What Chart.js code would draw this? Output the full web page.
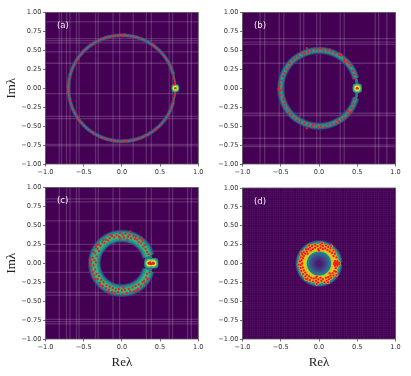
<!DOCTYPE html>
<html><head><meta charset="utf-8">
<style>html,body{margin:0;padding:0;background:#fff}canvas{position:absolute}</style>
<script src="https://cdn.jsdelivr.net/npm/chart.js@4"></script>
</head><body>
<canvas id="a" style="left:0;top:0" width="205" height="176"></canvas>
<canvas id="b" style="left:205px;top:0" width="206" height="176"></canvas>
<canvas id="c" style="left:0;top:176px" width="205" height="200"></canvas>
<canvas id="d" style="left:205px;top:176px" width="206" height="200"></canvas>
<script>
const panelNames=['(a)','(b)','(c)','(d)'];
const xTickLabels=['−1.0','−0.5','0.0','0.5','1.0'];
const yTickLabels=['−1.00','−0.75','−0.50','−0.25','0.00','0.25','0.50','0.75','1.00'];

const stripesAX=[-.82,-.79,-.725,-.68,-.594,-.56,-.345,-.31,-.115,-.03,.148,.32,.385,.62,.664,.86,.91];
const stripesAY=[.875,.656,.63,.60,.48,.33,-.07,-.37,-.40,-.74,-.76];
const stripesBX=[-.77,-.71,-.52,-.46,-.245,-.20,-.03,.015,.277,.33,.735,.78,.887];
const stripesBY=[.656,.61,.58,.33,-.33,-.36,-.66,-.75,-.77];
const stripesCX=[-.82,-.725,-.68,-.594,-.56,-.345,-.31,-.115,-.03,.32,.385,.62,.664,.86,.91];
const stripesCY=[.85,.81,.56,.25,.16,-.12,-.385,-.42,-.74,-.77,-.80];
const stripesDX=[];
const stripesDY=[];

const ringAX=[.676,.606,.495,.35,.181,0,-.181,-.35,-.495,-.606,-.676,-.70,-.676,-.606,-.495,-.35,-.181,0,.181,.35,.495,.606,.676];
const ringAY=[.181,.35,.495,.606,.676,.70,.676,.606,.495,.35,.181,0,-.181,-.35,-.495,-.606,-.676,-.70,-.676,-.606,-.495,-.35,-.181];
const closeAX=[.676,.695,.70,.695,.676];
const closeAY=[.181,.08,0,-.08,-.181];
const ringBX=[.483,.433,.354,.25,.129,0,-.129,-.25,-.354,-.433,-.483,-.50,-.483,-.433,-.354,-.25,-.129,0,.129,.25,.354,.433,.483];
const ringBY=[.129,.25,.354,.433,.483,.50,.483,.433,.354,.25,.129,0,-.129,-.25,-.354,-.433,-.483,-.50,-.483,-.433,-.354,-.25,-.129];
const closeBX=[.483,.497,.50,.497,.483];
const closeBY=[.129,.06,0,-.06,-.129];
const ringCX=[.348,.312,.255,.18,.093,0,-.093,-.18,-.255,-.312,-.348,-.36,-.348,-.312,-.255,-.18,-.093,0,.093,.18,.255,.312,.348];
const ringCY=[.093,.18,.255,.312,.348,.36,.348,.312,.255,.18,.093,0,-.093,-.18,-.255,-.312,-.348,-.36,-.348,-.312,-.255,-.18,-.093];
const closeCX=[.348,.358,.36,.358,.348];
const closeCY=[.093,.04,0,-.04,-.093];
const ringDX=[.205,.198,.178,.145,.103,.053,0,-.053,-.103,-.145,-.178,-.198,-.205,-.198,-.178,-.145,-.103,-.053,0,.053,.103,.145,.178,.198,.205];
const ringDY=[0,.053,.103,.145,.178,.198,.205,.198,.178,.145,.103,.053,0,-.053,-.103,-.145,-.178,-.198,-.205,-.198,-.178,-.145,-.103,-.053,0];
const hazeDX=[0],hazeDY=[0];

const blobAX=[.70],blobAY=[0];
const blobBX=[.50],blobBY=[0];
const blobCX=[.36,.41],blobCY=[0,0];

const dotsA=[[.68,.13],[.67,.17],[.65,.24],[.63,.30],[.60,.35],[.56,.41],[.52,.47],[.47,.52],[.43,.55],[.40,.58],[.31,.62],[.24,.66],[.17,.68],[.10,.69],[.04,.71],[.01,.69],[-.03,.71],[-.07,.69],[-.13,.69],[-.18,.67],[-.22,.67],[-.27,.65],[-.33,.62],[-.38,.59],[-.42,.56],[-.49,.50],[-.53,.45],[-.57,.39],[-.60,.35],[-.63,.29],[-.66,.22],[-.68,.15],[-.69,.09],[-.71,.03],[-.70,-.02],[-.71,-.06],[-.69,-.11],[-.68,-.17],[-.66,-.23],[-.63,-.30],[-.60,-.36],[-.57,-.41],[-.55,-.44],[-.50,-.48],[-.42,-.56],[-.36,-.60],[-.29,-.64],[-.23,-.66],[-.17,-.68],[-.12,-.69],[-.06,-.70],[-.01,-.71],[.03,-.69],[.07,-.70],[.13,-.69],[.18,-.67],[.24,-.66],[.30,-.63],[.35,-.60],[.42,-.56],[.45,-.53],[.51,-.48],[.57,-.42],[.61,-.36],[.64,-.28],[.66,-.23],[.67,-.18],[.68,-.13],[.69,-.09],[.69,.08],[.69,.05]];
const dotsB=[[.47,.13],[.46,.18],[.44,.23],[.41,.30],[.39,.33],[.36,.35],[.33,.39],[.29,.43],[.26,.44],[.21,.46],[.16,.48],[.11,.50],[.06,.50],[.03,.52],[-.01,.50],[-.05,.51],[-.10,.49],[-.14,.48],[-.18,.47],[-.23,.46],[-.27,.42],[-.31,.40],[-.34,.37],[-.38,.33],[-.40,.29],[-.43,.25],[-.45,.20],[-.47,.16],[-.49,.10],[-.51,.05],[-.52,.01],[-.53,-.01],[-.51,-.04],[-.50,-.09],[-.47,-.15],[-.45,-.20],[-.44,-.24],[-.41,-.28],[-.39,-.32],[-.36,-.35],[-.32,-.39],[-.28,-.42],[-.24,-.44],[-.19,-.46],[-.14,-.48],[-.09,-.50],[-.05,-.49],[-.01,-.51],[.03,-.50],[.08,-.51],[.12,-.48],[.17,-.47],[.22,-.46],[.26,-.44],[.30,-.41],[.33,-.39],[.37,-.35],[.40,-.33],[.41,-.31],[.43,-.26],[.45,-.21],[.47,-.15],[.02,.53],[-.16,.53],[-.16,-.53],[.42,.30],[.29,.45],[-.49,-.02],[.33,.36],[-.20,.45],[.14,.51],[-.46,-.13],[-.08,-.48],[.24,-.42],[.38,-.30]];
const dotsC=[[.33,.15],[.31,.19],[.35,.12],[.28,.22],[.30,.24],[.25,.26],[.27,.29],[.22,.28],[.20,.31],[.23,.33],[.17,.32],[.15,.36],[.12,.33],[.10,.37],[.08,.35],[.05,.39],[.03,.34],[.01,.37],[-.02,.40],[-.04,.35],[-.07,.37],[-.10,.34],[-.13,.36],[-.16,.33],[-.18,.30],[-.21,.31],[-.23,.27],[-.26,.28],[-.28,.23],[-.30,.25],[-.32,.19],[-.34,.21],[-.30,.16],[-.35,.13],[-.37,.15],[-.33,.09],[-.38,.07],[-.36,.04],[-.40,.02],[-.34,.01],[-.37,-.03],[-.40,-.06],[-.35,-.08],[-.37,-.11],[-.33,-.14],[-.36,-.16],[-.30,-.17],[-.32,-.21],[-.27,-.22],[-.29,-.26],[-.24,-.25],[-.25,-.30],[-.20,-.29],[-.21,-.33],[-.16,-.31],[-.17,-.35],[-.12,-.33],[-.13,-.38],[-.08,-.35],[-.09,-.39],[-.04,-.34],[-.05,-.38],[0,-.36],[.01,-.41],[.04,-.35],[.06,-.39],[.09,-.34],[.11,-.37],[.14,-.32],[.16,-.37],[.18,-.30],[.21,-.34],[.22,-.28],[.25,-.30],[.27,-.25],[.29,-.23],[.32,-.19],[.34,-.21],[.33,-.14],[.36,-.12],[.11,.42],[-.42,.05],[.35,.00],[.37,.01],[.39,-.01],[.41,.00],[.37,-.01],[.18,.35],[-.02,.33],[-.15,.37],[-.24,.31],[-.33,.24],[-.39,-.12],[-.28,-.29],[-.18,-.38],[.02,-.32],[.19,-.36],[.30,-.27],[.07,.31],[-.35,-.21],[-.41,-.02],[.26,.32]];
const dotsD=[[.20,.01],[.22,.01],[.24,.01],[.26,.01],[.20,-.01],[.22,-.01],[.24,-.01],[.26,-.01],[.21,.03],[.24,.03],[.21,-.03],[.24,-.03],[.23,.08],[.19,.10],[.21,.13],[.17,.14],[.19,.17],[.14,.16],[.15,.20],[.11,.18],[.12,.22],[.08,.20],[.09,.24],[.05,.19],[.05,.23],[.02,.21],[.02,.25],[-.01,.19],[-.02,.23],[-.05,.21],[-.05,.25],[-.08,.19],[-.09,.23],[-.11,.17],[-.12,.21],[-.14,.19],[-.16,.16],[-.17,.19],[-.18,.13],[-.20,.15],[-.20,.10],[-.22,.12],[-.21,.07],[-.24,.08],[-.23,.04],[-.25,.03],[-.22,.00],[-.24,-.02],[-.21,-.05],[-.24,-.06],[-.20,-.09],[-.23,-.10],[-.18,-.12],[-.21,-.14],[-.16,-.15],[-.18,-.17],[-.13,-.17],[-.15,-.20],[-.10,-.19],[-.12,-.22],[-.07,-.20],[-.08,-.24],[-.04,-.19],[-.04,-.23],[-.01,-.21],[-.01,-.25],[.02,-.19],[.03,-.23],[.05,-.21],[.07,-.25],[.09,-.19],[.10,-.23],[.12,-.18],[.13,-.21],[.15,-.16],[.16,-.19],[.18,-.13],[.19,-.16],[.20,-.10],[.22,-.11],[.22,-.06],[.16,.23],[.04,.27],[-.13,.24],[-.23,.14],[-.27,-.02],[-.17,-.21],[-.03,-.27],[.12,-.25],[.23,-.15],[.00,.17],[-.15,.13],[.14,-.13],[-.03,-.17]];

const zip=(xs,ys)=>xs.map((x,i)=>({x,y:ys[i]}));
const line=(data,w,color,tension=0)=>({data,showLine:true,pointRadius:0,borderWidth:w,borderColor:color,tension,fill:false,borderCapStyle:'butt'});
const pts=(data,r,color,style='circle')=>({data,showLine:false,pointRadius:r,pointStyle:style,backgroundColor:color,borderWidth:0});
const stripeColor='rgba(255,255,255,0.17)';
function stripes(xs,ys){
  return [...xs.map(x=>line([{x,y:-1},{x,y:1}],1.3,stripeColor)),
          ...ys.map(y=>line([{x:-1,y},{x:1,y}],1.3,stripeColor))];
}
const ringStyleA=[[4.4,'rgba(62,74,137,.45)'],[3,'rgba(60,95,140,.9)'],[1.4,'#2f7f8f']];
const ringStyleB=[[7.5,'rgba(62,74,137,.55)'],[5.8,'rgba(49,104,142,.85)'],[4,'#26828e'],[2.2,'#1f9e89']];
const ringStyleC=[[13,'rgba(62,74,137,.5)'],[11.5,'rgba(49,104,142,.75)'],[9.5,'#26828e'],[7.5,'#1f9e89'],[4.5,'#35b779']];
const ringStyleD=[[16,'rgba(62,74,137,.5)'],[14.5,'rgba(49,104,142,.8)'],[13,'#26828e'],[11,'#1f9e89'],[9,'#35b779'],[7,'#90d743'],[5,'#e8c419']];
const hazeStyleD=[[12,'#2a7a8e'],[10.5,'#31688e'],[9,'#3a5589'],[7.5,'#414285'],[5.5,'#46307c'],[3.5,'#481f70']];

const panels=[
 {id:'a',name:0,sx:stripesAX,sy:stripesAY,rx:ringAX,ry:ringAY,cx:closeAX,cy:closeAY,cw:1.8,style:ringStyleA,dots:dotsA,bx:blobAX,by:blobAY,br:[4.6,3.4,2.4,1.3],left:45.5,top:12.5,w:153,h:151.5,yTitle:true,xTitle:false},
 {id:'b',name:1,sx:stripesBX,sy:stripesBY,rx:ringBX,ry:ringBY,cx:closeBX,cy:closeBY,cw:3,style:ringStyleB,dots:dotsB,bx:blobBX,by:blobBY,br:[5.4,4,2.8,1.6],left:37.5,top:12.5,w:153,h:151.5,yTitle:false,xTitle:false},
 {id:'c',name:2,sx:stripesCX,sy:stripesCY,rx:ringCX,ry:ringCY,cx:closeCX,cy:closeCY,cw:7,style:ringStyleC,dots:dotsC,bx:blobCX,by:blobCY,br:[6,4.4,3,1.8],left:45.5,top:11.5,w:153,h:151.5,yTitle:true,xTitle:true},
 {id:'d',name:3,sx:stripesDX,sy:stripesDY,rx:ringDX,ry:ringDY,cx:null,cy:null,cw:0,style:ringStyleD,dots:dotsD,bx:[],by:[],br:[],left:37.5,top:11.5,w:153,h:151.5,yTitle:false,xTitle:true,fine:true}
];

const panelPlugin={id:'panel',
 beforeDraw(ch){const a=ch.chartArea,c=ch.ctx;c.save();c.fillStyle='#440154';c.fillRect(a.left,a.top,a.width,a.height);c.restore();},
 afterDatasetsDraw(ch,args,opts){const c=ch.ctx;c.save();c.fillStyle='#f4eef6';c.font='8.6px "DejaVu Sans"';c.textAlign='left';c.textBaseline='middle';
  c.fillText(opts.label,ch.scales.x.getPixelForValue(-.85),ch.scales.y.getPixelForValue(.82));c.restore();},
 afterDraw(ch){const a=ch.chartArea,c=ch.ctx;c.save();c.strokeStyle='#555';c.lineWidth=.8;c.strokeRect(a.left,a.top,a.width,a.height);c.restore();}
};

panels.forEach(p=>{
  const layers=[...stripes(p.sx,p.sy)];
  if(p.cx) layers.push(line(zip(p.cx,p.cy),p.cw,'rgba(38,130,142,.9)',.4));
  p.style.forEach(([w,col])=>layers.push(line(zip(p.rx,p.ry),w,col,.4)));
  if(p.fine){
    const haze=zip(hazeDX,hazeDY);
    hazeStyleD.forEach(([r,col])=>layers.push(pts(haze,r,col)));
  }
  const blob=zip(p.bx,p.by);
  const blobColors=['#26828e','#4ec36b','#f5e626','#e9301c'];
  if(blob.length) p.br.forEach((r,i)=>layers.push(pts(blob,r,blobColors[i],i==0?'rectRounded':'circle')));
  const dots=p.dots.map(([x,y])=>({x,y}));
  if(p.fine) layers.push(pts(dots,1.7,'#f9a31c'));
  layers.push(pts(dots,1.15,'#ee1c25'));
  const cv=document.getElementById(p.id);
  const bottomH=cv.height-p.top-p.h;
  const scales={
   x:{type:'linear',min:-1,max:1,position:'bottom',
      afterBuildTicks:s=>{s.ticks=xTickLabels.map((_,i)=>({value:-1+i*.5}));},
      afterFit:s=>{s.height=bottomH;},
      grid:{drawOnChartArea:false,tickLength:2.5,tickWidth:.7,tickColor:'#333'},border:{display:false},
      ticks:{autoSkip:false,maxRotation:0,padding:1.5,color:'#333',font:{family:'DejaVu Sans',size:6.6},callback:(v,i)=>xTickLabels[i]},
      title:{display:p.xTitle,text:'Reλ',color:'#222',font:{family:'Liberation Serif',size:13},padding:{top:0,bottom:6}}},
   y:{type:'linear',min:-1,max:1,position:'left',
      afterBuildTicks:s=>{s.ticks=yTickLabels.map((_,i)=>({value:-1+i*.25}));},
      afterFit:s=>{s.width=p.left;},
      grid:{drawOnChartArea:false,tickLength:2.5,tickWidth:.7,tickColor:'#333'},border:{display:false},
      ticks:{autoSkip:false,padding:1.5,color:'#333',font:{family:'DejaVu Sans',size:6.6},callback:(v,i)=>yTickLabels[i]},
      title:{display:p.yTitle,text:'Imλ',color:'#222',font:{family:'Liberation Serif',size:13},padding:{top:4,bottom:0}}}
  };
  if(p.fine){
    const g={color:'rgba(255,255,255,.032)',drawTicks:false,lineWidth:1};
    scales.x2={type:'linear',min:-1,max:1,position:'bottom',grid:g,border:{display:false},ticks:{display:false,stepSize:.03},afterFit:s=>{s.height=0;}};
    scales.y2={type:'linear',min:-1,max:1,position:'left',grid:g,border:{display:false},ticks:{display:false,stepSize:.03},afterFit:s=>{s.width=0;}};
  }
  new Chart(cv,{type:'scatter',data:{datasets:layers.slice().reverse()},plugins:[panelPlugin],
   options:{responsive:false,animation:false,devicePixelRatio:1,
    layout:{padding:{top:p.top,left:0,right:cv.width-p.left-p.w,bottom:0}},
    plugins:{legend:{display:false},tooltip:{enabled:false},panel:{label:panelNames[p.name]}},
    scales}});
});
</script>
</body></html>
